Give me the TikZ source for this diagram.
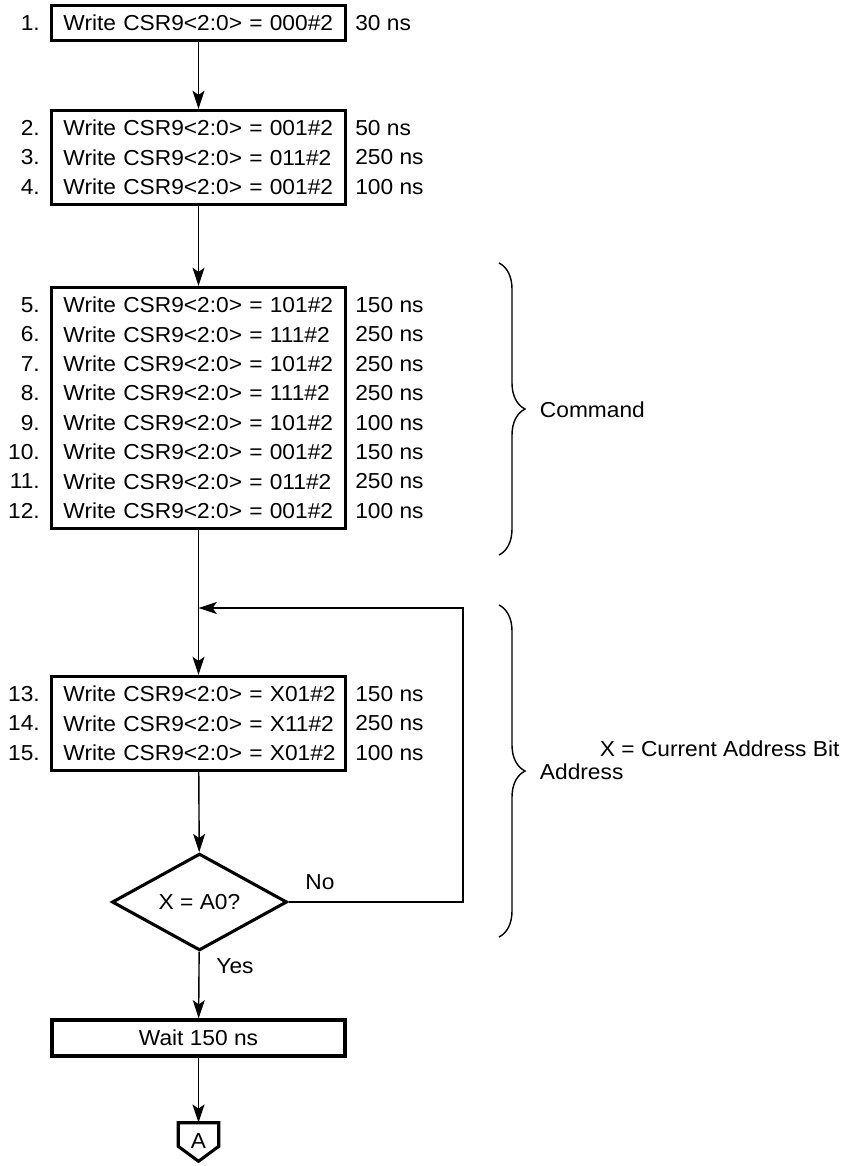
\documentclass[tikz,border=0pt]{standalone}
\usepackage{fontspec}
\setmainfont{Liberation Sans}[FakeStretch=1.05]
\usetikzlibrary{arrows.meta,positioning,shapes.geometric,calc,fit,decorations.pathreplacing}

\begin{document}
\begin{tikzpicture}[
  x=0.025cm, y=-0.025cm,
  every node/.style={font=\fontsize{15.4}{18}\selectfont},
  rowtxt/.style={text width=6.75cm,align=left,inner xsep=0.2875cm,inner ysep=0pt,
                 minimum height=0.7375cm},
  csrbox/.style={draw,line width=2.2pt,inner xsep=0pt,inner ysep=0.06cm},
  decide/.style={draw,diamond,line width=2.2pt,minimum width=4.375cm,
                 minimum height=2.375cm,inner sep=0pt},
  numlbl/.style={anchor=east,inner sep=0pt},
  timelbl/.style={anchor=west,inner sep=0pt},
  arr/.style={-{Stealth[length=13pt,width=8.5pt,inset=3pt]},line width=1pt},
  link/.style={line width=1pt},
]
  \useasboundingbox (0,0) rectangle (848,1166);

  % CSR9 write steps
  \foreach \n/\y/\bits/\dur in {1/23/000/30, 2/128/001/50, 3/157.5/011/250, 4/187/001/100,
      5/305/101/150, 6/334.4/111/250, 7/363.8/101/250, 8/393.2/111/250,
      9/422.6/101/100, 10/452/001/150, 11/481.4/011/250, 12/510.8/001/100,
      13/694/X01/150, 14/723.5/X11/250, 15/753/X01/100} {
    \node[rowtxt] (r\n) at (198.5,\y) {\mbox{Write CSR9<2:0> = \bits\#2}};
    \node[numlbl] (n\n) at (40,\y) {\n.};
    \node[timelbl] (t\n) at (355,\y) {\dur\ ns};
  }

  % Boxes round the steps
  \node[csrbox,fit=(r1)] (box1) {};
  \node[csrbox,fit=(r2)(r4)] (box2) {};
  \node[csrbox,fit=(r5)(r12)] (box3) {};
  \node[csrbox,fit=(r13)(r15)] (box4) {};

  % Address bit test
  \node[decide] (dec) at (199.5,902) {X = A0?};
  \node[draw,line width=2.2pt,minimum width=7.325cm,minimum height=0.9cm] (wait)
    at (198.5,1038) {Wait 150 ns};

  % Off-page connector
  \node[inner sep=0pt,minimum width=1cm,minimum height=0.575cm] (conA) at (198.5,1134.5) {};
  \draw[line width=2.2pt,line join=miter] (conA.south west) -- (conA.north west)
    -- (conA.north east) -- (conA.south east) -- ($(conA.south)+(0,15)$) -- cycle;
  \node (conAtxt) at (198.5,1141) {A};

  % Flow
  \coordinate (loopc) at (463,608);
  \coordinate (joinpt) at (198.5,608);
  \draw[arr] (box1) -- (box2);
  \draw[arr] (box2) -- (box3);
  \draw[arr] (box3) -- (box4);
  \draw[arr] (box4) -- (dec);
  \draw[arr] (dec) -- (wait);
  \draw[arr] (wait) -- (conA.north);
  \draw[arr] (dec.east) -| (loopc) -- (joinpt);
  \node (nolbl) at (320,882) {No};
  \node (yeslbl) at (235,966) {Yes};

  % Braces
  \draw[link,decorate,decoration={brace,amplitude=0.65cm}] (499,263) -- (499,555);
  \draw[link,decorate,decoration={brace,amplitude=0.65cm}] (499,605) -- (499,937);
  \node[anchor=west] (cmdlbl) at (535,410) {Command};
  \node[anchor=west] (addrlbl) at (535,772) {Address};
  \node[anchor=west] (xnote) at (595,749) {X = Current Address Bit};
\end{tikzpicture}
\end{document}
